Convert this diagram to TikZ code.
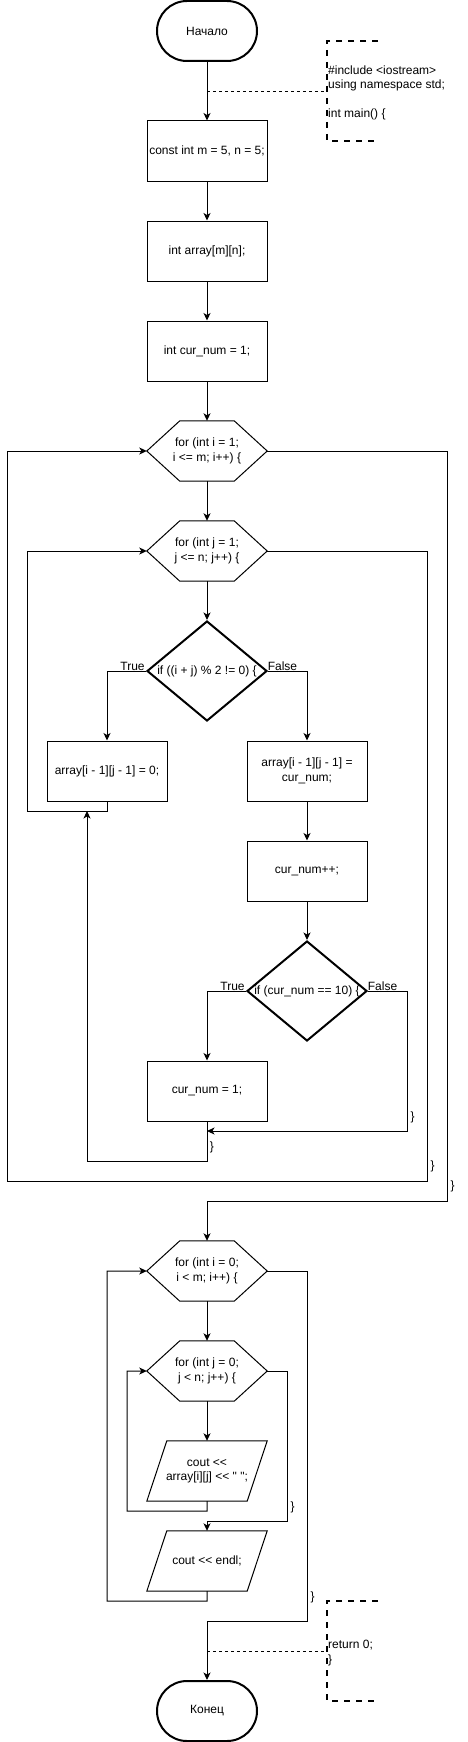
\documentclass[tikz,border=0pt]{standalone}
\usepackage{fontspec}
\setmainfont{Liberation Sans}[Ligatures=TeXOff]
\usetikzlibrary{shapes.geometric,arrows.meta,calc}
\newcommand{\hexframe}[1]{\draw[line width=1pt] (#1.west) -- ([xshift=33pt]#1.north west) -- ([xshift=-33pt]#1.north east)
	-- (#1.east) -- ([xshift=-33pt]#1.south east) -- ([xshift=33pt]#1.south west) -- cycle;}
\newcommand{\ioframe}[1]{\draw[line width=1pt] ([xshift=20pt]#1.north west) -- (#1.north east)
	-- ([xshift=-20pt]#1.south east) -- (#1.south west) -- cycle;}

\begin{document}
\begin{tikzpicture}[x=1pt, y=-1pt,
		font=\fontsize{12pt}{14.4pt}\selectfont,
		every node/.style={align=center},
		term/.style={draw, line width=2pt, rounded corners=30pt, minimum width=100pt, minimum height=60pt},
		proc/.style={draw, line width=1pt, minimum width=120pt, minimum height=60pt, inner sep=0pt},
		loophead/.style={minimum width=120pt, minimum height=60pt, inner sep=0pt},
		cond/.style={draw, line width=2pt, diamond, aspect=1.2, minimum width=120pt, minimum height=100pt, inner sep=0pt},
		io/.style={minimum width=120pt, minimum height=60pt, inner sep=0pt},
		note/.style={align=left, inner sep=1pt},
		brace/.style={inner sep=0pt},
		link/.style={line width=1pt, -{Stealth[length=7.5pt, width=7pt, inset=2pt]}},
		memo/.style={line width=1pt, dash pattern=on 3pt off 3pt},
		bracket/.style={line width=2pt, dash pattern=on 6pt off 6pt}
	]
		\useasboundingbox (0,0) rectangle (468,1742);
		%
		\node[term] (start) at (207,31) {Начало};
		\node[proc] (init) at (207,151) {const int m = 5, n = 5;};
		\node[proc] (decl) at (207,251) {int array[m][n];};
		\node[proc] (cnt) at (207,351) {int cur\_num = 1;};
		\node[note, anchor=west] (head) at (327,93) {\#include <iostream>\\using namespace std;\\[14.4pt]int main() \{};
		\coordinate (m1) at ($(start.south)!0.5!(init.north)$);
		\draw[link] (start) -- (init);
		\draw[memo] (m1) -- (m1 -| head.west);
		\draw[bracket] (378,41) -- (327,41) -- (327,141) -- (376,141);
		\draw[link] (init) -- (decl);
		\draw[link] (decl) -- (cnt);
		%
		\node[loophead] (fori) at (207,451) {for (int i = 1;\\i <= m; i++) \{};
		\hexframe{fori}
		\node[loophead] (forj) at (207,551) {for (int j = 1;\\j <= n; j++) \{};
		\hexframe{forj}
		\node[cond] (odd) at (207,671) {if ((i + j) \% 2 != 0) \{};
		\node[proc] (zero) at (107,771) {array[i - 1][j - 1] = 0;};
		\node[proc] (fill) at (307,771) {array[i - 1][j - 1] =\\cur\_num;};
		\node[proc] (incr) at (307,871) {cur\_num++;};
		\node[cond] (ten) at (307,991) {if (cur\_num == 10) \{};
		\node[proc] (reset) at (207,1091) {cur\_num = 1;};
		\draw[link] (cnt) -- (fori);
		\draw[link] (fori) -- (forj);
		\draw[link] (forj) -- (odd);
		\draw[link] (odd.west) -| (zero.north);
		\draw[link] (odd.east) -| (fill.north);
		\node (yes1) at (132.5,666) {True};
		\node (no1) at (282.5,666) {False};
		\draw[link] (zero.south) -- ++(0,10) -- ++(-80,0) |- (forj.west);
		\draw[link] (fill) -- (incr);
		\draw[link] (incr) -- (ten);
		\draw[link] (ten.west) -| (reset.north);
		\node (yes2) at (232.5,986) {True};
		\node (no2) at (382.5,986) {False};
		\coordinate (join) at (207,1131);
		\draw[link] (ten.east) -- (407,991) |- (join);
		\node[brace] (b1) at (412.5,1117) {\}};
		\draw[link] (reset.south) -- (207,1161) -| (87,811);
		\node[brace] (b2) at (212,1147) {\}};
		\draw[link] (forj.east) -- (427,551) -- (427,1181) -| (7,451) -- (fori.west);
		\node[brace] (b3) at (432.5,1166) {\}};
		%
		\node[loophead] (pi) at (207,1271) {for (int i = 0;\\i < m; i++) \{};
		\hexframe{pi}
		\node[loophead] (pj) at (207,1371) {for (int j = 0;\\j < n; j++) \{};
		\hexframe{pj}
		\node[io] (cell) at (207,1471) {cout <<\\array[i][j] << " ";};
		\ioframe{cell}
		\node[io] (endl) at (207,1561) {cout << endl;};
		\ioframe{endl}
		\node[term] (stop) at (207,1711) {Конец};
		\node[note, anchor=west] (tail) at (327,1653) {return 0;\\\}};
		\draw[link] (fori.east) -- (447,451) -- (447,1201) -| (pi.north);
		\node[brace] (b4) at (452.5,1186) {\}};
		\draw[link] (pi) -- (pj);
		\draw[link] (pj) -- (cell);
		\draw[link] (cell.south) -- ++(0,10) -- (127,1511) |- (pj.west);
		\draw[link] (pj.east) -- (287,1371) -- (287,1521) -| (endl.north);
		\node[brace] (b5) at (292.5,1507) {\}};
		\draw[link] (endl.south) -- ++(0,10) -- (107,1601) |- (pi.west);
		\draw[link] (pi.east) -- (307,1271) -- (307,1621) -| (stop.north);
		\node[brace] (b6) at (312.5,1597) {\}};
		\coordinate (m2) at (207,1651);
		\draw[memo] (m2) -- (m2 -| tail.west);
		\draw[bracket] (378,1601) -- (327,1601) -- (327,1701) -- (376,1701);
	\end{tikzpicture}
\end{document}
